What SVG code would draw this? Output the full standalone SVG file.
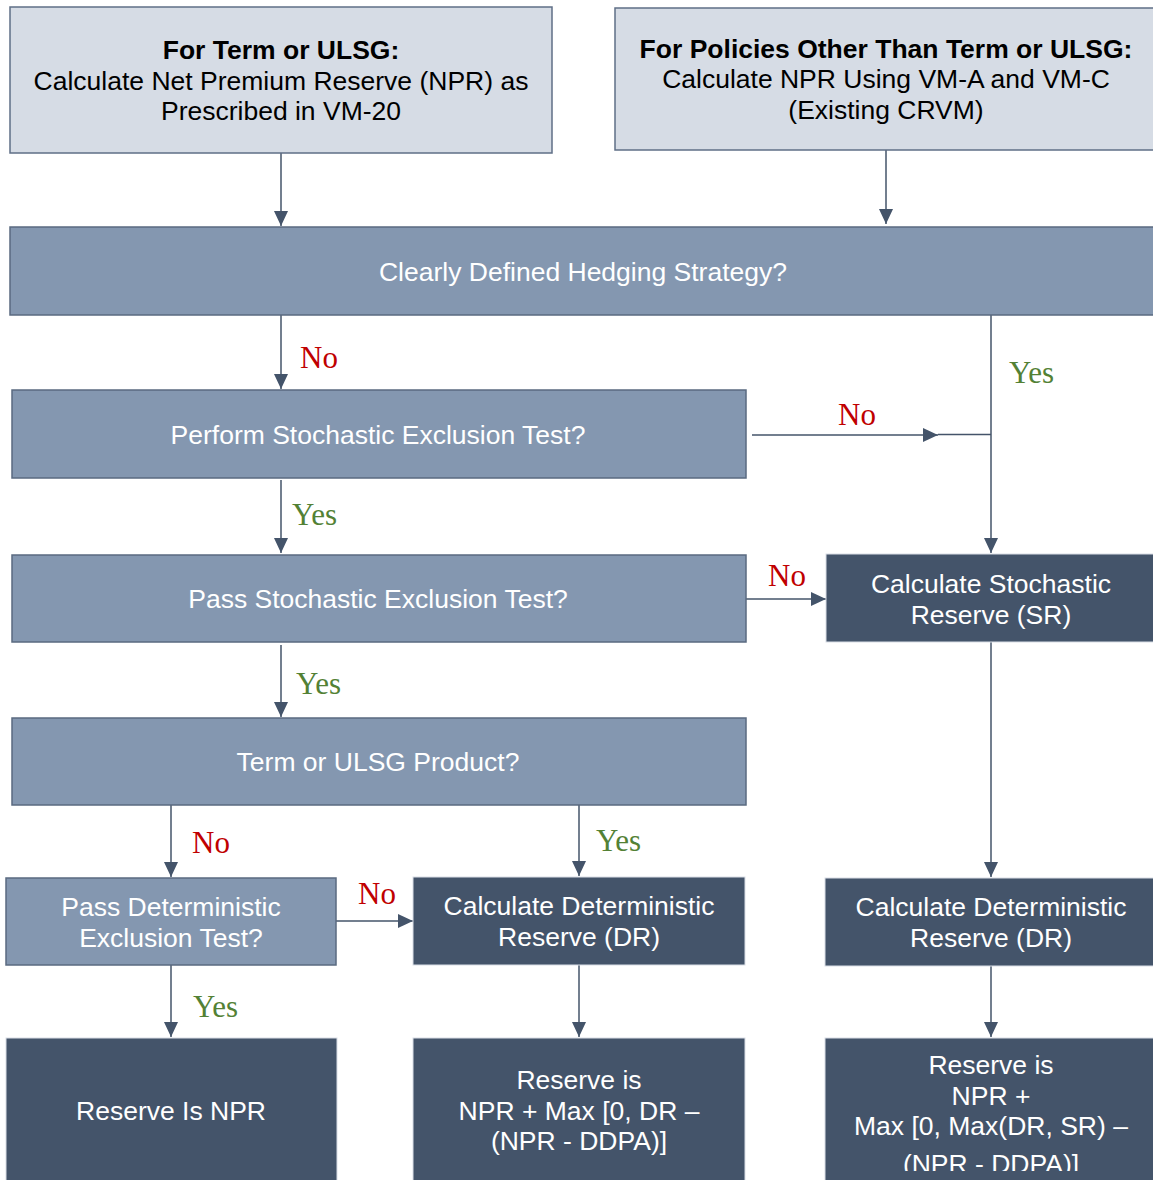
<svg xmlns="http://www.w3.org/2000/svg" width="1153" height="1180" viewBox="0 0 1153 1180">
<defs>
<marker id="ah" markerUnits="userSpaceOnUse" markerWidth="16" markerHeight="14" refX="15" refY="7" orient="auto">
<path d="M0,0 L15,7 L0,14 z" fill="#44546a"/>
</marker>
<clipPath id="cut"><rect x="825" y="1038" width="335" height="133"/></clipPath>
<style>
.light{fill:#d6dce5;stroke:#5f6f86;stroke-width:1.5}
.mid{fill:#8497b0;stroke:#5a6a80;stroke-width:1.5}
.dark{fill:#44546a;stroke:#d9dee6;stroke-width:1}
.t{font-family:"Liberation Sans",Arial,sans-serif;font-size:26.5px;text-anchor:middle}
.tb{font-weight:bold}
.blk{fill:#000}
.wht{fill:#fff}
.c{stroke:#44546a;stroke-width:1.5;fill:none}
.lab{font-family:"Liberation Serif","Times New Roman",serif;font-size:31px}
.no{fill:#c00000}
.yes{fill:#538135}
</style>
</defs>
<rect width="1153" height="1180" fill="#fff"/>

<g id="connectors">
<line class="c" x1="281" y1="153" x2="281" y2="226" marker-end="url(#ah)"/>
<line class="c" x1="886" y1="150" x2="886" y2="224" marker-end="url(#ah)"/>
<line class="c" x1="281" y1="315" x2="281" y2="389" marker-end="url(#ah)"/>
<line class="c" x1="991" y1="315" x2="991" y2="553" marker-end="url(#ah)"/>
<line class="c" x1="752" y1="435" x2="938" y2="435" stroke-width="2.2" marker-end="url(#ah)"/>
<line class="c" x1="938" y1="434.5" x2="991" y2="434.5"/>
<line class="c" x1="281" y1="480" x2="281" y2="553" marker-end="url(#ah)"/>
<line class="c" x1="746" y1="599" x2="826" y2="599" marker-end="url(#ah)"/>
<line class="c" x1="281" y1="645" x2="281" y2="717" marker-end="url(#ah)"/>
<line class="c" x1="991" y1="642" x2="991" y2="877" marker-end="url(#ah)"/>
<line class="c" x1="171" y1="805" x2="171" y2="877" marker-end="url(#ah)"/>
<line class="c" x1="579" y1="805" x2="579" y2="876" marker-end="url(#ah)"/>
<line class="c" x1="336" y1="921" x2="413" y2="921" marker-end="url(#ah)"/>
<line class="c" x1="171" y1="965" x2="171" y2="1037" marker-end="url(#ah)"/>
<line class="c" x1="579" y1="965" x2="579" y2="1037" marker-end="url(#ah)"/>
<line class="c" x1="991" y1="966" x2="991" y2="1037" marker-end="url(#ah)"/>
<text class="lab no" x="300" y="368">No</text>
<text class="lab yes" x="1009" y="383">Yes</text>
<text class="lab no" x="838" y="425">No</text>
<text class="lab yes" x="292" y="525">Yes</text>
<text class="lab no" x="768" y="586">No</text>
<text class="lab yes" x="296" y="694">Yes</text>
<text class="lab no" x="192" y="853">No</text>
<text class="lab yes" x="596" y="851">Yes</text>
<text class="lab no" x="358" y="904">No</text>
<text class="lab yes" x="193" y="1017">Yes</text>
</g>

<g id="n1">
<rect class="light" x="10" y="7" width="542" height="146"/>
<text class="t tb blk" x="281" y="59">For Term or ULSG:</text>
<text class="t blk" x="281" y="90">Calculate Net Premium Reserve (NPR) as</text>
<text class="t blk" x="281" y="120">Prescribed in VM-20</text>
</g>
<g id="n2">
<rect class="light" x="615" y="8" width="545" height="142"/>
<text class="t tb blk" x="886" y="58">For Policies Other Than Term or ULSG:</text>
<text class="t blk" x="886" y="88">Calculate NPR Using VM-A and VM-C</text>
<text class="t blk" x="886" y="119">(Existing CRVM)</text>
</g>
<g id="n3">
<rect class="mid" x="10" y="227" width="1150" height="88"/>
<text class="t wht" x="583" y="281">Clearly Defined Hedging Strategy?</text>
</g>
<g id="n4">
<rect class="mid" x="12" y="390" width="734" height="88"/>
<text class="t wht" x="378" y="444">Perform Stochastic Exclusion Test?</text>
</g>
<g id="n5">
<rect class="mid" x="12" y="555" width="734" height="87"/>
<text class="t wht" x="378" y="608">Pass Stochastic Exclusion Test?</text>
</g>
<g id="n6">
<rect class="dark" x="826" y="554" width="334" height="88"/>
<text class="t wht" x="991" y="593">Calculate Stochastic</text>
<text class="t wht" x="991" y="624">Reserve (SR)</text>
</g>
<g id="n7">
<rect class="mid" x="12" y="718" width="734" height="87"/>
<text class="t wht" x="378" y="771">Term or ULSG Product?</text>
</g>
<g id="n8">
<rect class="mid" x="6" y="878" width="330" height="87"/>
<text class="t wht" x="171" y="916">Pass Deterministic</text>
<text class="t wht" x="171" y="947">Exclusion Test?</text>
</g>
<g id="n9">
<rect class="dark" x="413" y="877" width="332" height="88"/>
<text class="t wht" x="579" y="915">Calculate Deterministic</text>
<text class="t wht" x="579" y="946">Reserve (DR)</text>
</g>
<g id="n10">
<rect class="dark" x="825" y="878" width="335" height="88"/>
<text class="t wht" x="991" y="916">Calculate Deterministic</text>
<text class="t wht" x="991" y="947">Reserve (DR)</text>
</g>
<g id="n11">
<rect class="dark" x="6" y="1038" width="331" height="150"/>
<text class="t wht" x="171" y="1120">Reserve Is NPR</text>
</g>
<g id="n12">
<rect class="dark" x="413" y="1038" width="332" height="150"/>
<text class="t wht" x="579" y="1089">Reserve is</text>
<text class="t wht" x="579" y="1120">NPR + Max [0, DR –</text>
<text class="t wht" x="579" y="1150">(NPR - DDPA)]</text>
</g>
<g id="n13">
<rect class="dark" x="825" y="1038" width="335" height="150"/>
<text class="t wht" x="991" y="1074">Reserve is</text>
<text class="t wht" x="991" y="1105">NPR +</text>
<text class="t wht" x="991" y="1135">Max [0, Max(DR, SR) –</text>
<text class="t wht" x="991" y="1173" clip-path="url(#cut)">(NPR - DDPA)]</text>
</g>
</svg>
